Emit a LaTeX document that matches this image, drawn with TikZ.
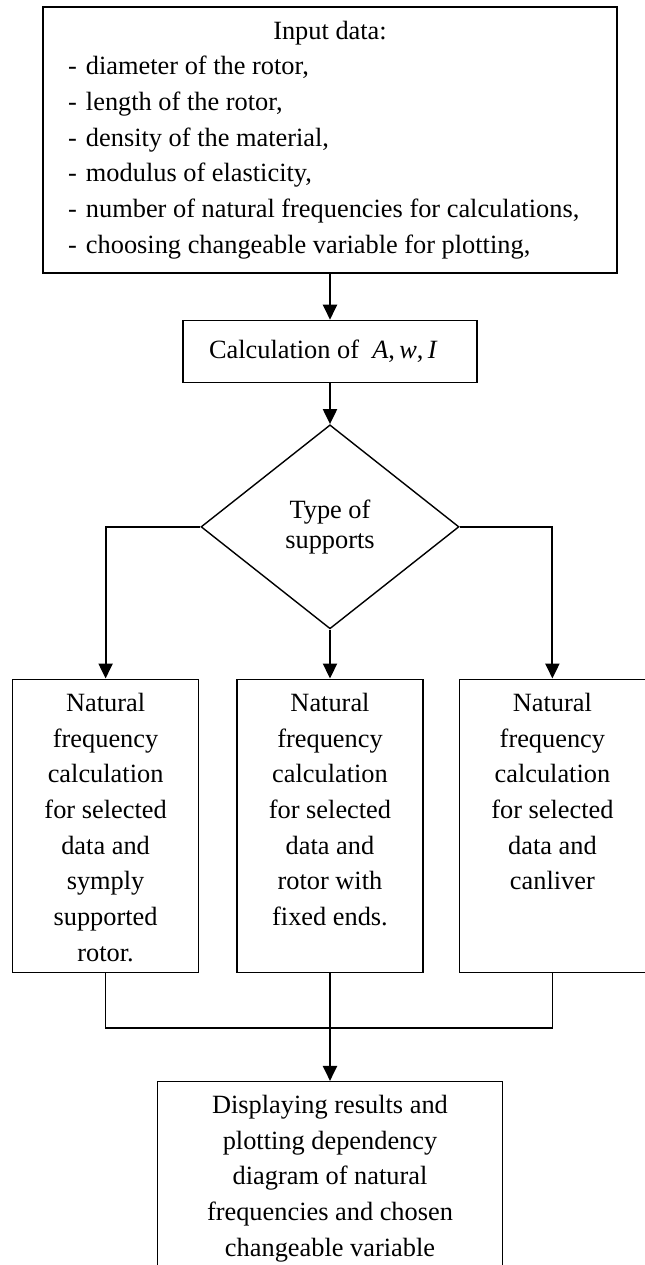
\documentclass[tikz,border=0pt]{standalone}
\usepackage{fontspec}
\setmainfont{Liberation Serif}
\usepackage{tikz}
\usetikzlibrary{
  arrows.meta,
  positioning,
  shapes.geometric
}
\newcommand{\itm}[1]{\makebox[0.36cm][l]{-}#1\par}

\begin{document}
\begin{tikzpicture}[
  block/.style={draw,line width=0.8pt,align=center,inner sep=0pt,
                font=\fontsize{15}{20.3}\selectfont},
  decision/.style={draw,diamond,line width=0.8pt,minimum width=5.16cm,
                   minimum height=4.08cm,inner sep=0pt,align=center,
                   font=\fontsize{15}{17}\selectfont},
  colbox/.style={block,minimum width=3.72cm,minimum height=5.86cm},
  arr/.style={-{Triangle[length=0.3cm,width=0.28cm]},line width=1.2pt},
  line/.style={line width=0.8pt},
]
\path[use as bounding box,clip] (0,0) rectangle (12.9,-25.3);
\node[block,minimum width=11.48cm,minimum height=5.32cm] (input) at (6.6,-2.8)
  {\parbox{10.48cm}{\centering Input data:\par\raggedright
   \itm{diameter of the rotor,}
   \itm{length of the rotor,}
   \itm{density of the material,}
   \itm{modulus of elasticity,}
   \itm{number of natural frequencies for calculations,}
   \itm{choosing changeable variable for plotting,}}};
\node[block,minimum width=5.88cm,minimum height=1.24cm,below=0.92cm of input] (calc)
  {Calculation of\ \ \textit{A},\,\textit{w},\,\textit{I}\ \ };
\node[decision,below=0.82cm of calc] (type) {Type of\\supports};
\node[colbox,below=0.98cm of type] (fixed)
  {\parbox[c][5.3cm][t]{3.5cm}{\centering Natural\\frequency\\calculation\\for selected\\data and\\rotor with\\fixed ends.}};
\node[colbox,left=0.74cm of fixed] (simple)
  {\parbox[c][5.3cm][t]{3.5cm}{\centering Natural\\frequency\\calculation\\for selected\\data and\\symply\\supported\\rotor.}};
\node[colbox,right=0.70cm of fixed] (cant)
  {\parbox[c][5.3cm][t]{3.5cm}{\centering Natural\\frequency\\calculation\\for selected\\data and\\canliver}};
\node[block,minimum width=6.9cm,minimum height=3.88cm,below=2.16cm of fixed] (result)
  {Displaying results and\\plotting dependency\\diagram of natural\\frequencies and chosen\\changeable variable};
\coordinate[below=1.1cm of fixed.south] (merge);

\draw[arr] (input) -- (calc);
\draw[arr] (calc) -- (type);
\draw[arr] (type.west) -| (simple.north);
\draw[arr] (type) -- (fixed);
\draw[arr] (type.east) -| (cant.north);
\draw[line] (simple.south) |- (merge) -| (cant.south);
\draw[arr] (fixed.south) -- (result.north);
\end{tikzpicture}
\end{document}
